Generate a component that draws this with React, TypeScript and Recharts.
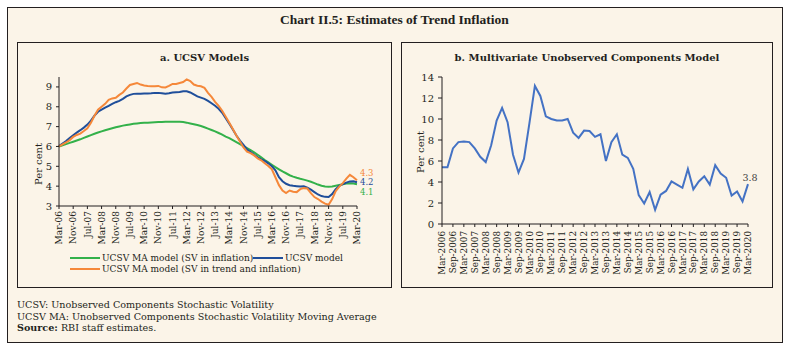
import React from "react";
import { LineChart, Line, XAxis, YAxis, LabelList, Label } from "recharts";

// ---- panel a: UCSV models (bi-monthly readings, Mar-06 .. Mar-20)
const MONTHS = ["Jan", "Feb", "Mar", "Apr", "May", "Jun", "Jul", "Aug", "Sep", "Oct", "Nov", "Dec"];

const ucsvMaInflation = [
  6.0, 6.06, 6.12, 6.18, 6.24, 6.3, 6.36, 6.43, 6.5, 6.57,
  6.64, 6.7, 6.76, 6.82, 6.87, 6.92, 6.97, 7.01, 7.05, 7.08,
  7.11, 7.14, 7.16, 7.18, 7.19, 7.2, 7.21, 7.22, 7.23, 7.23,
  7.24, 7.24, 7.24, 7.24, 7.24, 7.23, 7.2, 7.16, 7.12, 7.08,
  7.03, 6.97, 6.9, 6.83, 6.76, 6.68, 6.6, 6.5, 6.42, 6.32,
  6.22, 6.12, 6.02, 5.92, 5.82, 5.7, 5.58, 5.45, 5.32, 5.2,
  5.08, 4.96, 4.85, 4.74, 4.65, 4.55, 4.48, 4.42, 4.37, 4.33,
  4.28, 4.22, 4.15, 4.08, 4.02, 3.98, 3.97, 3.98, 4.02, 4.06,
  4.1, 4.13, 4.15, 4.13, 4.1,
];

const ucsvModel = [
  6.02, 6.15, 6.27, 6.42, 6.56, 6.7, 6.82, 6.95, 7.1, 7.3,
  7.55, 7.75, 7.86, 7.96, 8.05, 8.15, 8.23, 8.3, 8.4, 8.52,
  8.6, 8.65, 8.66, 8.66, 8.67, 8.67, 8.68, 8.7, 8.7, 8.68,
  8.66, 8.68, 8.72, 8.73, 8.74, 8.78, 8.78, 8.72, 8.62, 8.52,
  8.46, 8.4, 8.3, 8.18, 8.05, 7.9, 7.7, 7.42, 7.15, 6.85,
  6.55, 6.3, 6.08, 5.85, 5.72, 5.58, 5.45, 5.35, 5.27, 5.15,
  5.0, 4.8, 4.45, 4.25, 4.12, 4.05, 4.02, 4.0, 3.98, 4.0,
  3.92, 3.82, 3.7, 3.58, 3.5, 3.46, 3.45, 3.6, 3.85, 4.02,
  4.1, 4.18, 4.24, 4.25, 4.2,
];

const ucsvMaTrend = [
  6.0, 6.1, 6.2, 6.32, 6.48, 6.58, 6.65, 6.78, 6.92, 7.2,
  7.55, 7.85, 8.0, 8.15, 8.35, 8.42, 8.45, 8.6, 8.72, 8.92,
  9.1, 9.15, 9.2, 9.12, 9.07, 9.05, 9.04, 9.03, 9.05, 8.98,
  8.97, 9.05, 9.15, 9.15, 9.2, 9.25, 9.38, 9.3, 9.12, 9.06,
  9.03, 8.95, 8.7, 8.5, 8.25, 8.05, 7.8, 7.5, 7.2, 6.88,
  6.55, 6.25, 5.95, 5.74, 5.66, 5.55, 5.4, 5.3, 5.15, 5.02,
  4.85, 4.45, 4.05, 3.78, 3.65, 3.78, 3.72, 3.7, 3.85, 3.9,
  3.88, 3.65, 3.45, 3.35, 3.22, 3.12, 3.06, 3.35, 3.75, 3.98,
  4.15, 4.38, 4.57, 4.45, 4.3,
];

const leftMonths = ucsvModel.map((_, k) => {
  const m = 2 + 2 * k;
  return `${MONTHS[m % 12]}-${String((2006 + Math.floor(m / 12)) % 100).padStart(2, "0")}`;
});

const leftData = leftMonths.map((month, i) => ({
  month,
  green: ucsvMaInflation[i],
  blue: ucsvModel[i],
  orange: ucsvMaTrend[i],
}));

// ---- panel b: multivariate UC model (quarterly, Mar-2006 .. Mar-2020)
const mucValues = [
  5.4, 5.4, 7.2, 7.8, 7.85, 7.8, 7.2, 6.4, 5.9, 7.5,
  9.85, 11.05, 9.7, 6.6, 4.9, 6.2, 9.6, 13.15, 12.2, 10.25,
  10.0, 9.85, 9.85, 10.0, 8.7, 8.2, 8.9, 8.85, 8.3, 8.55,
  6.0, 7.8, 8.55, 6.6, 6.3, 5.25, 2.75, 1.95, 3.05, 1.35,
  2.8, 3.15, 4.05, 3.75, 3.45, 5.25, 3.3, 4.05, 4.55, 3.75,
  5.6, 4.8, 4.4, 2.7, 3.1, 2.15, 3.8,
];

const quarters = mucValues.map((_, i) => {
  const m = 2 + 3 * i;
  return `${MONTHS[m % 12]}-${2006 + Math.floor(m / 12)}`;
});

const rightData = quarters.map((q, i) => ({ q, v: mucValues[i] }));

const leftTicks = [3, 4, 5, 6, 7, 8, 9];
const rightTicks = [0, 2, 4, 6, 8, 10, 12, 14];

const GREEN = "#33b14a";
const BLUE = "#1f4e9a";
const ORANGE = "#f5883a";
const LINE_B = "#4472c4";
const INK = "#231f20";
const BG = "#fbf4e8";
const FONT = "'DejaVu Serif', serif";

const RotTick = ({ x, y, payload, gap, size }: any) => (
  <text
    x={x}
    y={y + gap}
    transform={`rotate(-90 ${x} ${y + gap})`}
    textAnchor="end"
    dy="0.35em"
    fontSize={size}
    fontFamily={FONT}
    fill={INK}
  >
    {payload.value}
  </text>
);

const endLabel = (last: number, color: string, text: string, dy: number) => (p: any) =>
  p.index === last ? (
    <text x={p.x + 3} y={p.y + dy} dy="0.35em" fontSize={8.5} fontFamily={FONT} fill={color}>
      {text}
    </text>
  ) : null;

const yTitle = (x: number, y: number) => () => (
  <text
    x={x}
    y={y}
    transform={`rotate(-90 ${x} ${y})`}
    textAnchor="middle"
    dy="0.35em"
    fontSize={10}
    fontFamily={FONT}
    fill={INK}
  >
    Per cent
  </text>
);

const box = (left: number, top: number, width: number, height: number): React.CSSProperties => ({
  position: "absolute",
  left,
  top,
  width,
  height,
  border: `1.5px solid ${INK}`,
  boxSizing: "border-box",
});

const legendItem = (left: number, top: number, color: string, text: string) => (
  <div style={{ position: "absolute", left, top, display: "flex", alignItems: "center", whiteSpace: "nowrap" }}>
    <div style={{ width: 30, height: 2.5, background: color, marginRight: 2 }} />
    <span style={{ fontFamily: FONT, fontSize: 9, color: INK }}>{text}</span>
  </div>
);

export default function App() {
  const last = leftData.length - 1;
  return (
    <div style={{ position: "absolute", left: 0, top: 0, width: 789, height: 350, background: "#fff" }}>
      <div style={{ ...box(7, 7, 776, 336), background: BG }} />
      <div
        style={{
          position: "absolute",
          left: 0,
          width: 789,
          top: 12,
          textAlign: "center",
          fontFamily: "'Liberation Serif', serif",
          fontWeight: "bold",
          fontSize: 13.5,
          color: INK,
        }}
      >
        Chart II.5: Estimates of Trend Inflation
      </div>

      {/* panel a */}
      <div style={box(17, 42, 375, 246)} />
      <div
        style={{
          position: "absolute",
          left: 17,
          width: 375,
          top: 52,
          textAlign: "center",
          fontFamily: FONT,
          fontWeight: "bold",
          fontSize: 10,
          color: INK,
        }}
      >
        a. UCSV Models
      </div>
      <div style={{ position: "absolute", left: 17, top: 42 }}>
        <LineChart width={375} height={246} data={leftData} margin={{ top: 35, right: 35, left: 12, bottom: 41 }}>
          <XAxis
            dataKey="month"
            interval={3}
            height={41}
            tickSize={3}
            tickMargin={2}
            stroke={INK}
            tick={<RotTick gap={0} size={9} />}
          />
          <YAxis
            width={30}
            domain={[3, 9.5]}
            ticks={leftTicks}
            interval={0}
            tickSize={3}
            tickMargin={4}
            stroke={INK}
            tick={{ fontSize: 10, fontFamily: FONT, fill: INK }}
          >
            <Label content={yTitle(21, 122)} />
          </YAxis>
          <Line type="linear" dataKey="green" stroke={GREEN} strokeWidth={2} dot={false} isAnimationActive={false}>
            <LabelList dataKey="green" content={endLabel(last, GREEN, "4.1", 7.5)} />
          </Line>
          <Line type="linear" dataKey="blue" stroke={BLUE} strokeWidth={2} dot={false} isAnimationActive={false}>
            <LabelList dataKey="blue" content={endLabel(last, BLUE, "4.2", -0.5)} />
          </Line>
          <Line type="linear" dataKey="orange" stroke={ORANGE} strokeWidth={2} dot={false} isAnimationActive={false}>
            <LabelList dataKey="orange" content={endLabel(last, ORANGE, "4.3", -7.5)} />
          </Line>
        </LineChart>
      </div>
      {legendItem(70, 253, GREEN, "UCSV MA model (SV in inflation)")}
      {legendItem(253, 253, BLUE, "UCSV model")}
      {legendItem(70, 264, ORANGE, "UCSV MA model (SV in trend and inflation)")}

      {/* panel b */}
      <div style={box(401, 42, 372, 246)} />
      <div
        style={{
          position: "absolute",
          left: 401,
          width: 372,
          top: 52,
          textAlign: "center",
          fontFamily: FONT,
          fontWeight: "bold",
          fontSize: 10,
          color: INK,
        }}
      >
        b. Multivariate Unobserved Components Model
      </div>
      <div style={{ position: "absolute", left: 401, top: 42 }}>
        <LineChart width={371} height={246} data={rightData} margin={{ top: 35, right: 24, left: 11, bottom: 14 }}>
          <XAxis
            dataKey="q"
            interval={1}
            height={50}
            tickSize={3}
            tickMargin={2}
            stroke={INK}
            tick={<RotTick gap={2} size={8.8} />}
          />
          <YAxis
            width={30}
            domain={[0, 14]}
            ticks={rightTicks}
            interval={0}
            tickSize={4}
            tickMargin={4}
            stroke={INK}
            tick={{ fontSize: 10, fontFamily: FONT, fill: INK }}
          >
            <Label content={yTitle(19, 110)} />
          </YAxis>
          <Line type="linear" dataKey="v" stroke={LINE_B} strokeWidth={2} dot={false} isAnimationActive={false}>
            <LabelList
              dataKey="v"
              content={(p: any) =>
                p.index === mucValues.length - 1 ? (
                  <text x={p.x + 2} y={p.y - 3} textAnchor="middle" fontSize={9.5} fontFamily={FONT} fill="#404040">
                    3.8
                  </text>
                ) : null
              }
            />
          </Line>
        </LineChart>
      </div>

      {/* notes */}
      <div style={{ position: "absolute", left: 17, top: 299, fontFamily: FONT, fontSize: 9.6, color: INK, lineHeight: "11.5px" }}>
        <div>UCSV: Unobserved Components Stochastic Volatility</div>
        <div>UCSV MA: Unobserved Components Stochastic Volatility Moving Average</div>
        <div>
          <b>Source:</b> RBI staff estimates.
        </div>
      </div>
    </div>
  );
}
